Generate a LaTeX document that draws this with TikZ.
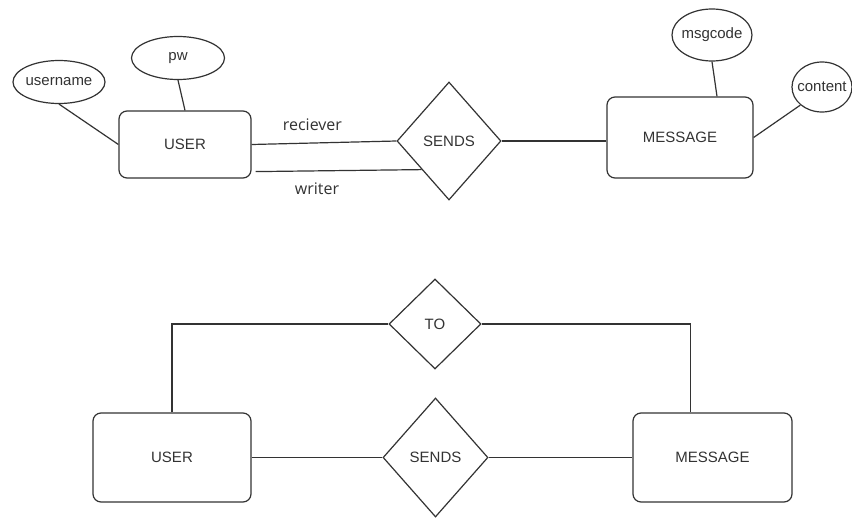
\documentclass[tikz,border=0pt]{standalone}
\usepackage{fontspec}
\setmainfont{Liberation Sans}
\newfontfamily\lblfont{Open Sans}
\usetikzlibrary{shapes.geometric,calc}

\begin{document}
\begin{tikzpicture}[x=1pt,y=-1pt,line width=1.2pt,black!80,font=\fontsize{15}{18}\selectfont,
    entity/.style={rectangle,rounded corners=8pt,draw,fill=white},
    attrib/.style={ellipse,draw,fill=white,inner xsep=-4pt,inner ysep=0pt},
    relation/.style={diamond,draw,fill=white,inner sep=0pt},
    lbl/.style={font=\lblfont\fontsize{16}{19}\selectfont,inner sep=0pt}]

            \fill[white] (0,0) rectangle (852,530);
            \useasboundingbox (0,0) rectangle (852,530);

            % sends, with both roles
            \node[attrib, minimum width=92pt, minimum height=43pt] (uname) at (59,82) {username};
            \node[attrib, minimum width=93pt, minimum height=43pt] (pw) at (178,58) {pw};
            \node[entity, minimum width=132pt, minimum height=67pt] (user) at (185,144.5) {USER};
            \node[relation, minimum width=104pt, minimum height=118pt] (sends) at (449,141) {SENDS};
            \node[entity, minimum width=146pt, minimum height=81pt] (msg) at (680,137.5) {MESSAGE};
            \node[attrib, minimum width=80pt, minimum height=52pt] (code) at (712,35) {msgcode};
            \node[attrib, minimum width=60pt, minimum height=50pt] (content) at (822,87) {content};

            \draw (uname.south) -- (user.west);
            \draw (pw.south) -- (user.north);
            \draw (user.east) -- node[lbl, pos=0.42, above=12pt] {reciever} (sends.west);
            \draw ($(user.south east)+(4,-7)$) -- node[lbl, pos=0.37, below=11pt] {writer} ($(sends.west)!0.48!(sends.south)$);
            \draw (sends.east) -- (sends.east -| msg.west);
            \draw (code.south) -- ([xshift=37pt]msg.north);
            \draw (content.south west) -- (msg.east);

            % two relationships
            \node[entity, minimum width=158pt, minimum height=89pt] (user2) at (172,457.5) {USER};
            \node[relation, minimum width=92pt, minimum height=90pt] (to) at (435,324) {TO};
            \node[relation, minimum width=105pt, minimum height=119pt] (sends2) at (435.5,457.5) {SENDS};
            \node[entity, minimum width=159pt, minimum height=89pt] (msg2) at (712.5,457.5) {MESSAGE};

            \draw (user2.north) |- (to.west);
            \draw (to.east) -| ([xshift=-22pt]msg2.north);
            \draw (user2) -- (sends2);
            \draw (sends2) -- (msg2);

        \end{tikzpicture}
\end{document}
